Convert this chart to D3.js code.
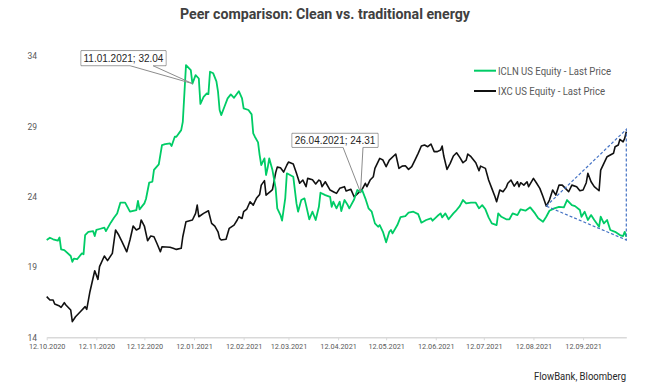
<!DOCTYPE html>
<html><head><meta charset="utf-8">
<script src="https://cdn.jsdelivr.net/npm/d3@7"></script>
<style>
html,body{margin:0;padding:0;background:#fff;}
svg{display:block;font-family:Roboto,"Noto Sans",sans-serif;}
</style></head>
<body>
<svg id="chart" width="649" height="389"></svg>
<script>
// ---- data ----
const titleText = "Peer comparison: Clean vs. traditional energy";
const sourceText = "FlowBank, Bloomberg";
const seriesNames = ["ICLN US Equity - Last Price", "IXC US Equity - Last Price"];
const yTicks = [14, 19, 24, 29, 34];
const xTickDates = ["2020-10-12","2020-11-12","2020-12-12","2021-01-12","2021-02-12","2021-03-12","2021-04-12","2021-05-12","2021-06-12","2021-07-12","2021-08-12","2021-09-12"];

const iclnDates = ["2020-10-12","2020-10-14","2020-10-16","2020-10-19","2020-10-20","2020-10-21","2020-10-23","2020-10-27","2020-10-28","2020-10-29","2020-10-31","2020-11-03","2020-11-04","2020-11-05","2020-11-07","2020-11-10","2020-11-11","2020-11-12","2020-11-14","2020-11-17","2020-11-18","2020-11-21","2020-11-23","2020-11-25","2020-11-27","2020-11-30","2020-12-03","2020-12-07","2020-12-08","2020-12-09","2020-12-12","2020-12-13","2020-12-15","2020-12-17","2020-12-18","2020-12-21","2020-12-23","2020-12-25","2020-12-28","2020-12-29","2020-12-31","2021-01-01","2021-01-04","2021-01-05","2021-01-07","2021-01-10","2021-01-11","2021-01-13","2021-01-15","2021-01-16","2021-01-18","2021-01-20","2021-01-21","2021-01-22","2021-01-24","2021-01-26","2021-01-27","2021-01-28","2021-01-29","2021-01-31","2021-02-02","2021-02-04","2021-02-06","2021-02-09","2021-02-11","2021-02-12","2021-02-15","2021-02-17","2021-02-18","2021-02-19","2021-02-21","2021-02-22","2021-02-23","2021-02-25","2021-02-26","2021-02-27","2021-02-28","2021-03-02","2021-03-04","2021-03-05","2021-03-07","2021-03-08","2021-03-10","2021-03-11","2021-03-15","2021-03-17","2021-03-18","2021-03-20","2021-03-22","2021-03-23","2021-03-25","2021-03-27","2021-03-29","2021-03-31","2021-04-01","2021-04-04","2021-04-07","2021-04-08","2021-04-09","2021-04-11","2021-04-13","2021-04-14","2021-04-16","2021-04-18","2021-04-19","2021-04-22","2021-04-24","2021-04-26","2021-04-27","2021-04-29","2021-05-01","2021-05-03","2021-05-05","2021-05-07","2021-05-08","2021-05-10","2021-05-12","2021-05-14","2021-05-15","2021-05-16","2021-05-19","2021-05-21","2021-05-24","2021-05-26","2021-05-29","2021-06-01","2021-06-03","2021-06-06","2021-06-09","2021-06-10","2021-06-13","2021-06-15","2021-06-16","2021-06-18","2021-06-20","2021-06-23","2021-06-25","2021-06-27","2021-06-29","2021-07-01","2021-07-04","2021-07-07","2021-07-09","2021-07-11","2021-07-13","2021-07-15","2021-07-17","2021-07-20","2021-07-21","2021-07-23","2021-07-26","2021-07-28","2021-07-30","2021-08-02","2021-08-04","2021-08-07","2021-08-10","2021-08-13","2021-08-15","2021-08-18","2021-08-20","2021-08-22","2021-08-25","2021-08-28","2021-08-31","2021-09-02","2021-09-05","2021-09-07","2021-09-10","2021-09-11","2021-09-13","2021-09-15","2021-09-17","2021-09-19","2021-09-22","2021-09-23","2021-09-25","2021-09-27","2021-09-29","2021-10-02","2021-10-05","2021-10-07","2021-10-08","2021-10-09"];
const iclnValues = [20.92,21.08,20.97,20.87,21.10,20.25,20.20,19.78,19.37,19.60,19.55,19.97,19.90,21.27,21.50,21.55,21.20,21.63,21.70,21.80,21.55,22.15,22.50,22.80,23.57,23.57,22.93,23.05,23.70,23.10,23.52,23.83,24.99,25.06,25.90,26.30,27.67,27.74,27.79,27.60,28.26,28.26,28.73,29.32,33.35,33.00,32.04,32.64,32.40,30.60,31.10,31.34,31.29,32.88,32.77,32.20,31.46,30.16,29.80,30.39,30.99,31.27,31.03,31.50,30.99,30.28,30.16,29.85,28.50,28.26,27.86,26.96,26.25,26.72,25.54,26.05,26.72,25.89,24.59,23.17,22.69,22.30,23.90,25.66,25.42,23.52,22.93,23.76,23.88,23.40,22.39,22.93,22.34,23.28,24.28,24.11,23.99,23.28,23.64,23.17,23.64,22.98,23.76,23.40,23.17,23.80,24.47,24.31,24.47,23.88,23.17,22.93,22.10,21.86,21.98,21.50,20.75,21.50,21.63,21.39,21.98,22.55,22.62,22.86,22.93,22.76,22.15,22.34,22.46,22.29,22.62,22.81,22.53,22.81,22.39,22.81,23.05,23.33,23.76,23.52,23.57,23.57,23.17,23.40,23.10,22.53,22.10,21.98,22.81,22.57,22.39,22.39,22.81,22.69,23.10,23.00,23.24,22.81,22.46,22.22,22.57,23.00,23.17,23.28,23.24,23.76,23.40,23.33,23.05,22.57,22.93,22.34,22.69,22.34,21.86,22.57,22.10,22.34,21.63,21.50,21.27,21.20,21.50,21.15];

const ixcDates = ["2020-10-12","2020-10-14","2020-10-16","2020-10-17","2020-10-20","2020-10-21","2020-10-23","2020-10-24","2020-10-27","2020-10-28","2020-10-30","2020-11-02","2020-11-05","2020-11-06","2020-11-08","2020-11-11","2020-11-13","2020-11-14","2020-11-17","2020-11-19","2020-11-22","2020-11-24","2020-11-26","2020-11-28","2020-12-01","2020-12-03","2020-12-05","2020-12-07","2020-12-09","2020-12-10","2020-12-12","2020-12-14","2020-12-16","2020-12-18","2020-12-20","2020-12-22","2020-12-23","2020-12-28","2020-12-30","2021-01-01","2021-01-04","2021-01-05","2021-01-07","2021-01-11","2021-01-13","2021-01-14","2021-01-15","2021-01-18","2021-01-21","2021-01-23","2021-01-25","2021-01-27","2021-01-28","2021-01-29","2021-02-01","2021-02-03","2021-02-06","2021-02-08","2021-02-09","2021-02-11","2021-02-12","2021-02-14","2021-02-16","2021-02-18","2021-02-20","2021-02-22","2021-02-23","2021-02-25","2021-02-26","2021-03-01","2021-03-02","2021-03-04","2021-03-05","2021-03-07","2021-03-09","2021-03-11","2021-03-12","2021-03-15","2021-03-17","2021-03-19","2021-03-21","2021-03-23","2021-03-24","2021-03-27","2021-03-29","2021-03-31","2021-04-01","2021-04-02","2021-04-04","2021-04-07","2021-04-09","2021-04-11","2021-04-13","2021-04-16","2021-04-17","2021-04-20","2021-04-22","2021-04-24","2021-04-27","2021-04-29","2021-04-30","2021-05-02","2021-05-04","2021-05-05","2021-05-08","2021-05-10","2021-05-12","2021-05-14","2021-05-18","2021-05-20","2021-05-22","2021-05-24","2021-05-26","2021-05-28","2021-05-30","2021-06-01","2021-06-03","2021-06-05","2021-06-07","2021-06-09","2021-06-11","2021-06-13","2021-06-15","2021-06-16","2021-06-17","2021-06-19","2021-06-21","2021-06-23","2021-06-25","2021-06-27","2021-06-29","2021-07-01","2021-07-02","2021-07-04","2021-07-07","2021-07-09","2021-07-10","2021-07-13","2021-07-15","2021-07-17","2021-07-19","2021-07-20","2021-07-22","2021-07-24","2021-07-26","2021-07-27","2021-07-29","2021-07-31","2021-08-02","2021-08-03","2021-08-04","2021-08-06","2021-08-08","2021-08-09","2021-08-12","2021-08-14","2021-08-16","2021-08-18","2021-08-20","2021-08-22","2021-08-24","2021-08-26","2021-08-28","2021-08-30","2021-09-01","2021-09-03","2021-09-05","2021-09-08","2021-09-10","2021-09-12","2021-09-14","2021-09-15","2021-09-17","2021-09-19","2021-09-22","2021-09-23","2021-09-25","2021-09-27","2021-09-29","2021-10-01","2021-10-02","2021-10-04","2021-10-05","2021-10-07","2021-10-08","2021-10-09"];
const ixcValues = [16.89,16.65,16.65,16.37,16.22,16.13,16.46,16.30,15.94,15.11,15.46,15.82,16.18,15.99,17.24,18.73,18.12,19.02,19.78,19.45,19.97,21.63,21.27,20.80,20.08,20.92,21.91,21.63,21.75,22.34,21.91,20.87,21.20,21.15,20.63,20.08,20.44,20.40,20.33,20.25,20.33,21.15,22.22,22.34,22.81,23.40,22.57,22.81,23.00,22.10,21.90,21.50,21.03,20.92,20.97,21.75,21.98,22.34,22.57,22.45,22.93,23.12,23.64,23.40,23.88,24.16,24.82,25.14,24.11,24.40,24.50,25.70,26.10,26.06,25.75,26.25,26.46,26.32,25.66,24.95,25.18,24.71,25.30,25.20,24.90,25.18,25.10,24.71,25.06,24.47,24.35,24.23,24.59,24.71,24.40,24.52,23.99,24.20,24.52,24.95,24.71,25.18,25.42,26.01,26.72,26.60,26.13,26.60,27.03,26.01,26.17,26.20,25.94,26.13,26.60,27.08,27.60,27.67,27.55,27.74,27.20,27.20,27.31,27.60,26.89,25.94,26.37,26.89,27.12,26.79,26.41,26.60,27.03,26.84,26.41,25.84,26.17,26.01,25.18,24.59,23.99,23.64,24.47,24.35,24.66,24.95,25.18,24.75,25.06,24.71,24.99,24.82,25.06,24.71,25.30,24.95,24.59,23.99,23.33,23.76,24.47,24.11,24.82,24.82,24.59,24.35,24.82,24.71,24.42,24.47,24.99,25.66,25.06,24.71,24.42,25.89,26.37,26.84,26.96,27.08,27.55,27.67,28.07,27.90,28.14,28.61];

// annotation callouts (date, value, label)
const calloutDates = ["2021-01-11", "2021-04-26"];
const calloutValues = [32.04, 24.31];
const calloutLabels = ["11.01.2021; 32.04", "26.04.2021; 24.31"];

// trend triangle corners (date, value)
const trendDates = ["2021-08-20", "2021-10-09", "2021-10-09"];
const trendValues = [23.33, 28.78, 20.92];

// ---- drawing ----
const parse = d3.timeParse("%Y-%m-%d");
const fmt = d3.timeFormat("%d.%m.%Y");
const svg = d3.select("#chart");

const x = d3.scaleTime()
  .domain([parse("2020-10-12"), parse("2021-10-09")])
  .range([46.7, 626.3]);
const y = d3.scaleLinear().domain([14, 34]).range([337.3, 56]);

// title
svg.append("text").attr("x", 325).attr("y", 19).attr("text-anchor", "middle")
  .attr("font-size", 15).attr("font-weight", 700).attr("fill", "#404040")
  .attr("textLength", 290).attr("lengthAdjust", "spacingAndGlyphs")
  .text(titleText);

// y axis (labels only)
const yAxis = d3.axisLeft(y).tickValues(yTicks).tickSize(0).tickPadding(0);
const gy = svg.append("g").attr("transform", "translate(37,0)").call(yAxis);
gy.select(".domain").remove();
gy.selectAll("text").attr("font-family", "Roboto").attr("font-size", 8.5).attr("fill", "#595959");

// x axis
const xAxis = d3.axisBottom(x).tickValues(xTickDates.map(parse)).tickFormat(fmt).tickSize(3).tickSizeOuter(0).tickPadding(3);
const gx = svg.append("g").attr("transform", "translate(0,337.3)").call(xAxis);
gx.select(".domain").attr("stroke", "#d9d9d9").attr("stroke-width", 1.5);
gx.selectAll(".tick line").attr("stroke", "#d9d9d9");
gx.selectAll("text").attr("font-family", "Roboto").attr("font-size", 8).attr("fill", "#595959")
  .attr("textLength", 36.5).attr("lengthAdjust", "spacingAndGlyphs");

// lines
const line = d3.line().x(d => x(d[0])).y(d => y(d[1]));
const iclnData = iclnDates.map((d, i) => [parse(d), iclnValues[i]]);
const ixcData = ixcDates.map((d, i) => [parse(d), ixcValues[i]]);
svg.append("path").datum(ixcData).attr("d", line).attr("fill", "none")
  .attr("stroke", "#111111").attr("stroke-width", 1.6).attr("stroke-linejoin", "round");
svg.append("path").datum(iclnData).attr("d", line).attr("fill", "none")
  .attr("stroke", "#00cc66").attr("stroke-width", 1.8).attr("stroke-linejoin", "round");

// trend triangle
const tri = trendDates.map((d, i) => [x(parse(d)), y(trendValues[i])]);
svg.append("path").attr("d", "M" + tri.map(p => p.join(",")).join("L") + "Z")
  .attr("fill", "none").attr("stroke", "#4472c4").attr("stroke-width", 1.2)
  .attr("stroke-dasharray", "3,2");

// legend
const legendColors = ["#00cc66", "#111111"];
const legendWidths = [113, 107];
seriesNames.forEach((name, i) => {
  const ly = 70.7 + i * 20.3;
  svg.append("line").attr("x1", 474).attr("x2", 496).attr("y1", ly).attr("y2", ly)
    .attr("stroke", legendColors[i]).attr("stroke-width", 2);
  svg.append("text").attr("x", 498).attr("y", ly + 4).attr("font-size", 11).attr("fill", "#595959")
    .attr("textLength", legendWidths[i]).attr("lengthAdjust", "spacingAndGlyphs").text(name);
});

// callouts
const boxes = [
  {x0: 81, y0: 50.7, w: 85, h: 15, b1: 130, b2: 153},
  {x0: 292, y0: 133.3, w: 86, h: 14, b1: 343, b2: 363}
];
calloutLabels.forEach((lab, i) => {
  const px = x(parse(calloutDates[i])), py = y(calloutValues[i]);
  const b = boxes[i];
  const yb = b.y0 + b.h;
  const p = `M${b.x0},${b.y0}H${b.x0 + b.w}V${yb}H${b.b2}L${px},${py}L${b.b1},${yb}H${b.x0}Z`;
  svg.append("path").attr("d", p).attr("fill", "rgba(255,255,255,0.0)").attr("stroke", "#8c8c8c").attr("stroke-width", 1);
  svg.append("rect").attr("x", b.x0 + 0.5).attr("y", b.y0 + 0.5).attr("width", b.w - 1).attr("height", b.h - 1).attr("fill", "#fff");
  svg.append("text").attr("x", b.x0 + b.w / 2).attr("y", b.y0 + b.h / 2 + 3.6).attr("text-anchor", "middle")
    .attr("font-family", "Liberation Sans, Arial, sans-serif").attr("font-size", 10).attr("fill", "#262626").text(lab);
});

// source
svg.append("text").attr("x", 626).attr("y", 380).attr("text-anchor", "end")
  .attr("font-size", 11).attr("fill", "#262626")
  .attr("textLength", 92).attr("lengthAdjust", "spacingAndGlyphs").text(sourceText);
</script>
</body></html>
